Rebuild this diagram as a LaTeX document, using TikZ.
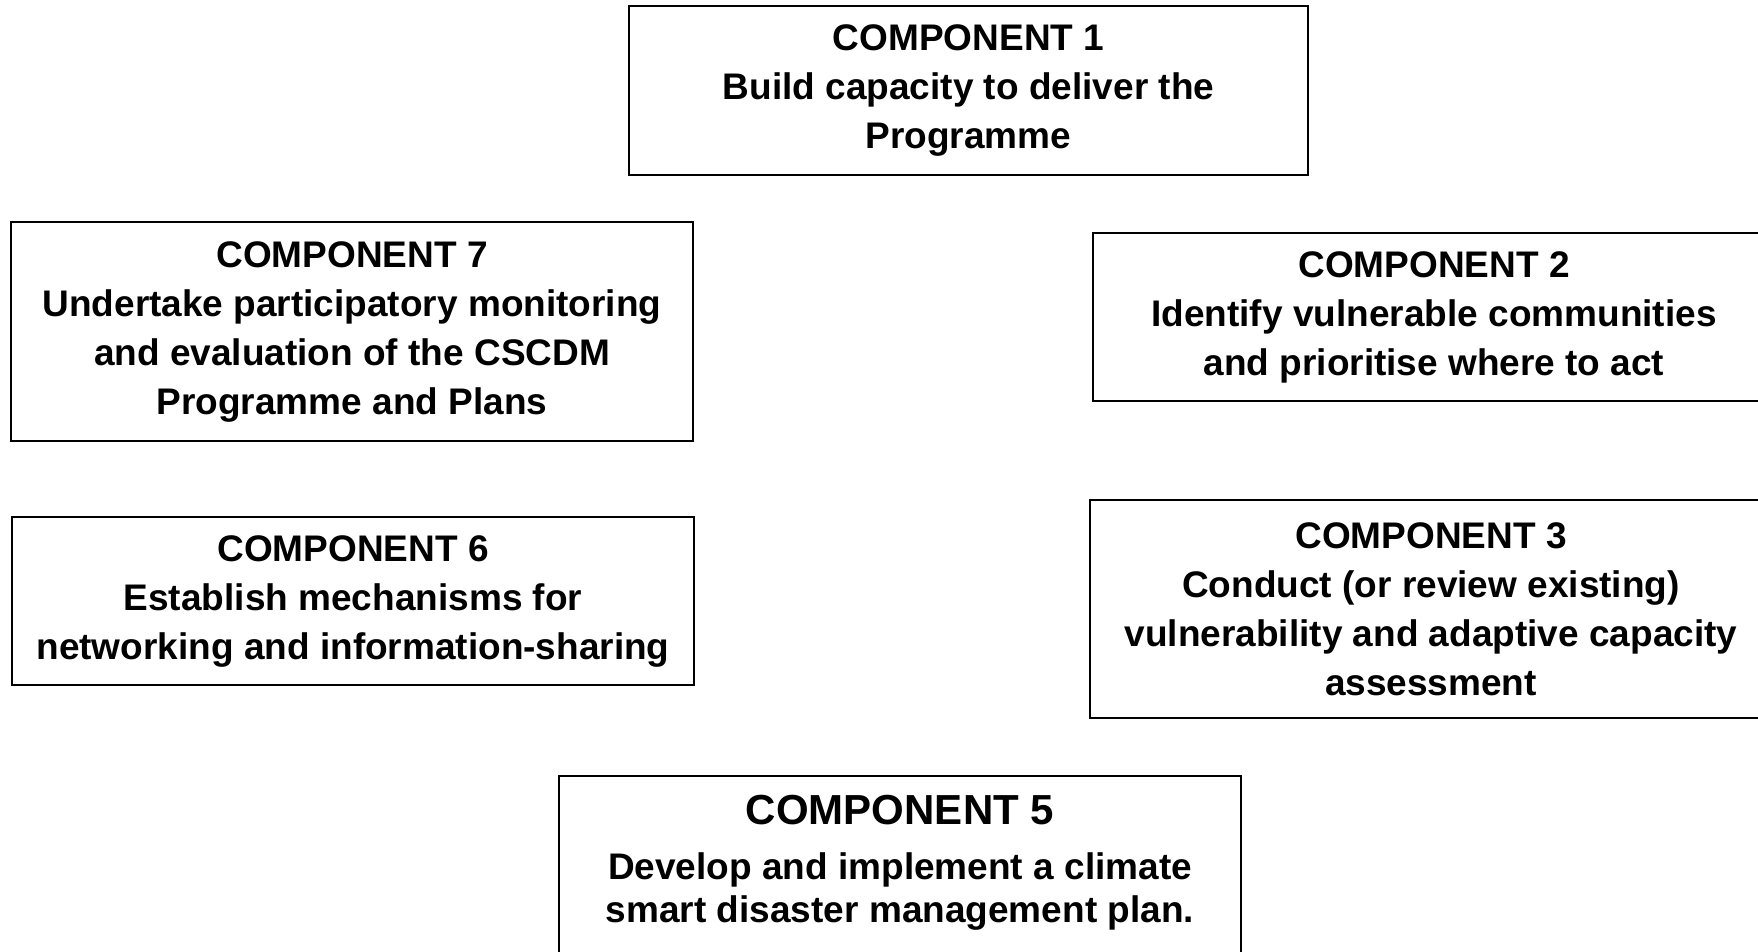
\documentclass[tikz,border=0pt]{standalone}
\usepackage{fontspec}
\setmainfont{Liberation Sans}
\usetikzlibrary{positioning}

\begin{document}
\begin{tikzpicture}[x=1pt,y=-1pt]
\tikzstyle{comp}=[draw=black, line width=1.5pt, align=center, inner sep=0pt,
  minimum width=682pt, font=\fontsize{37}{49}\selectfont\bfseries]
\path[use as bounding box, clip] (0,0) rectangle (1758,951);
% top
\node [comp, minimum width=679pt, minimum height=169pt] (c1) at (968.5,90.5)
  {COMPONENT 1\\Build capacity to deliver the\\Programme};
% right column
\node [comp, minimum height=168pt] (c2) at (1434,317)
  {COMPONENT 2\\Identify vulnerable communities\\and prioritise where to act};
\node [comp, minimum height=218pt] (c3) at (1431,609)
  {COMPONENT 3\\Conduct (or review existing)\\vulnerability and adaptive capacity\\assessment};
% bottom
\node [comp, anchor=north, inner ysep=19pt, text depth=150pt,
  font=\fontsize{37}{43}\selectfont\bfseries] (c5) at (900,775)
  {{\fontsize{42}{43}\selectfont COMPONENT 5}\\[12pt]Develop and implement a climate\\smart disaster management plan.};
% left column
\node [comp, minimum height=168pt] (c6) at (353,601)
  {COMPONENT 6\\Establish mechanisms for\\networking and information-sharing};
\node [comp, minimum height=219pt] (c7) at (352,331.5)
  {COMPONENT 7\\Undertake participatory monitoring\\and evaluation of the CSCDM\\Programme and Plans};
\end{tikzpicture}
\end{document}
